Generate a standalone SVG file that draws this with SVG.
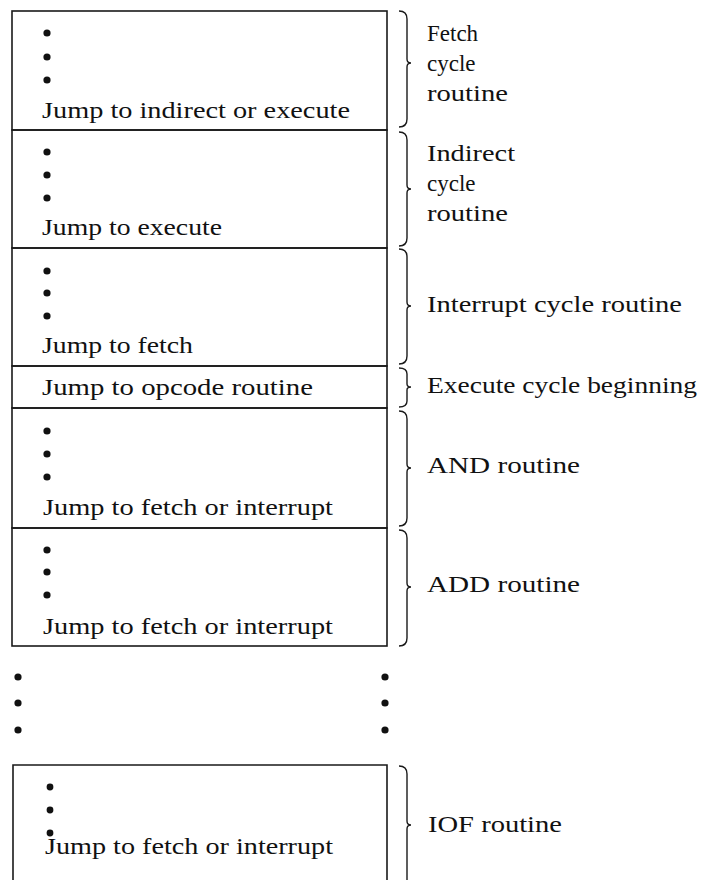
<svg xmlns="http://www.w3.org/2000/svg" width="706" height="880" viewBox="0 0 706 880">
<style>
.box{fill:none;stroke:#1a1a1a;stroke-width:1.6}
.dot{fill:#111}
.t{font-family:"Liberation Serif","Times New Roman",serif;font-size:23px;fill:#111}
.brace{fill:none;stroke:#1a1a1a;stroke-width:1.4}
</style>
<rect x="0" y="0" width="706" height="880" fill="#fff"/>
<g id="fetch-box">
<rect class="box" x="12" y="11" width="375" height="119"/>
<circle class="dot" cx="47" cy="33" r="3.6"/><circle class="dot" cx="47" cy="57" r="3.6"/><circle class="dot" cx="47" cy="80" r="3.6"/>
<text class="t" x="42" y="118" textLength="308" lengthAdjust="spacingAndGlyphs">Jump to indirect or execute</text>
</g>
<g id="indirect-box">
<rect class="box" x="12" y="130" width="375" height="118"/>
<circle class="dot" cx="47" cy="152" r="3.6"/><circle class="dot" cx="47" cy="175" r="3.6"/><circle class="dot" cx="47" cy="198" r="3.6"/>
<text class="t" x="42" y="235" textLength="180" lengthAdjust="spacingAndGlyphs">Jump to execute</text>
</g>
<g id="interrupt-box">
<rect class="box" x="12" y="248" width="375" height="118"/>
<circle class="dot" cx="47" cy="271" r="3.6"/><circle class="dot" cx="47" cy="293" r="3.6"/><circle class="dot" cx="47" cy="316" r="3.6"/>
<text class="t" x="42" y="353" textLength="151" lengthAdjust="spacingAndGlyphs">Jump to fetch</text>
</g>
<g id="execute-box">
<rect class="box" x="12" y="366" width="375" height="42"/>
<text class="t" x="42" y="395" textLength="271" lengthAdjust="spacingAndGlyphs">Jump to opcode routine</text>
</g>
<g id="and-box">
<rect class="box" x="12" y="408" width="375" height="120"/>
<circle class="dot" cx="47" cy="431" r="3.6"/><circle class="dot" cx="47" cy="454" r="3.6"/><circle class="dot" cx="47" cy="477" r="3.6"/>
<text class="t" x="43" y="515" textLength="290" lengthAdjust="spacingAndGlyphs">Jump to fetch or interrupt</text>
</g>
<g id="add-box">
<rect class="box" x="12" y="528" width="375" height="118"/>
<circle class="dot" cx="47" cy="550" r="3.6"/><circle class="dot" cx="47" cy="572" r="3.6"/><circle class="dot" cx="47" cy="595" r="3.6"/>
<text class="t" x="43" y="634" textLength="290" lengthAdjust="spacingAndGlyphs">Jump to fetch or interrupt</text>
</g>
<g id="ellipsis">
<circle class="dot" cx="18" cy="677" r="3.6"/><circle class="dot" cx="18" cy="703" r="3.6"/><circle class="dot" cx="18" cy="730" r="3.6"/>
<circle class="dot" cx="385" cy="677" r="3.6"/><circle class="dot" cx="385" cy="703" r="3.6"/><circle class="dot" cx="385" cy="730" r="3.6"/>
</g>
<g id="iof-box">
<path class="box" d="M13,882 L13,765 L387,765 L387,882"/>
<circle class="dot" cx="50" cy="787" r="3.4"/><circle class="dot" cx="50" cy="810" r="3.4"/><circle class="dot" cx="50" cy="833" r="3.4"/>
<text class="t" x="45" y="854" textLength="288" lengthAdjust="spacingAndGlyphs">Jump to fetch or interrupt</text>
</g>
<g id="connectors">
<path class="brace" d="M399,11 Q407,11 407,19 L407,59 Q407,63 411,63 Q407,63 407,67 L407,119 Q407,127 399,127"/>
<path class="brace" d="M399,132 Q407,132 407,140 L407,185 Q407,189 411,189 Q407,189 407,193 L407,238 Q407,246 399,246"/>
<path class="brace" d="M399,249 Q407,249 407,257 L407,302 Q407,306 411,306 Q407,306 407,310 L407,356 Q407,364 399,364"/>
<path class="brace" d="M399,368 Q407,368 407,374 L407,384 Q407,387 411,387 Q407,387 407,390 L407,401 Q407,407 399,407"/>
<path class="brace" d="M399,411 Q407,411 407,419 L407,464 Q407,468 411,468 Q407,468 407,472 L407,518 Q407,526 399,526"/>
<path class="brace" d="M399,530 Q407,530 407,538 L407,583 Q407,587 411,587 Q407,587 407,591 L407,638 Q407,646 399,646"/>
<path class="brace" d="M399,766 Q407,766 407,774 L407,821 Q407,825 411,825 Q407,825 407,829 L407,882"/>
</g>
<g id="label-fetch">
<text class="t" x="427" y="41">Fetch</text>
<text class="t" x="427" y="71">cycle</text>
<text class="t" x="427" y="101" textLength="81" lengthAdjust="spacingAndGlyphs">routine</text>
</g>
<g id="label-indirect">
<text class="t" x="427" y="161" textLength="88" lengthAdjust="spacingAndGlyphs">Indirect</text>
<text class="t" x="427" y="191">cycle</text>
<text class="t" x="427" y="221" textLength="81" lengthAdjust="spacingAndGlyphs">routine</text>
</g>
<g id="label-interrupt"><text class="t" x="427" y="312" textLength="255" lengthAdjust="spacingAndGlyphs">Interrupt cycle routine</text></g>
<g id="label-execute"><text class="t" x="427" y="393" textLength="270" lengthAdjust="spacingAndGlyphs">Execute cycle beginning</text></g>
<g id="label-and"><text class="t" x="427" y="473" textLength="153" lengthAdjust="spacingAndGlyphs">AND routine</text></g>
<g id="label-add"><text class="t" x="427" y="592" textLength="153" lengthAdjust="spacingAndGlyphs">ADD routine</text></g>
<g id="label-iof"><text class="t" x="428" y="832" textLength="134" lengthAdjust="spacingAndGlyphs">IOF routine</text></g>
</svg>
